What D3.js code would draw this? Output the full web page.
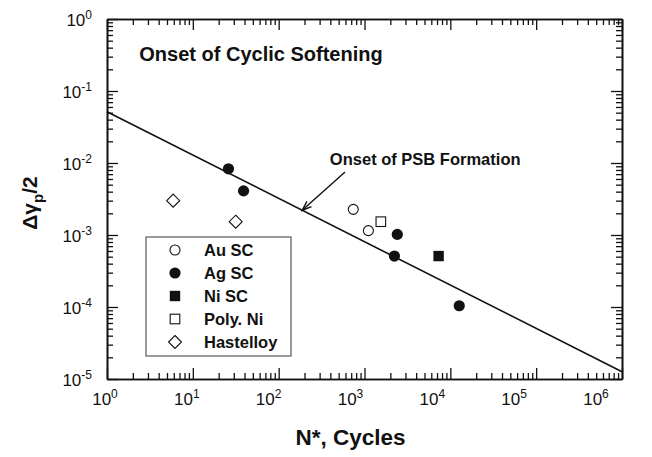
<!DOCTYPE html>
<html>
<head>
<meta charset="utf-8">
<script src="https://cdn.jsdelivr.net/npm/d3@7"></script>
<style>
  body { margin: 0; background: #fff; }
  svg text { font-family: Arial, "Liberation Sans", Helvetica, sans-serif; fill: #111; }
</style>
</head>
<body>
<div id="chart"></div>
<script>
// data (N* cycles, plastic strain amplitude)
var auN = [740, 1110];
var auAmp = [2.27e-3, 1.15e-3];
var agN = [26, 39, 2230, 2410, 12700];
var agAmp = [8.3e-3, 4.1e-3, 5.1e-4, 1.02e-3, 1.04e-4];
var niScN = [7300];
var niScAmp = [5.1e-4];
var polyNiN = [1550];
var polyNiAmp = [1.53e-3];
var hastN = [5.9, 31.6];
var hastAmp = [3.0e-3, 1.53e-3];
// onset of PSB formation line
var psbN = [1, 1e6];
var psbAmp = [0.0516, 1.26e-5];

var xDecades = [0, 1, 2, 3, 4, 5, 6];
var yDecades = [0, -1, -2, -3, -4, -5];
var legendNames = ['Au SC', 'Ag SC', 'Ni SC', 'Poly. Ni', 'Hastelloy'];

var W = 652, H = 457;
var margin = {top: 19, right: 30, bottom: 78, left: 107},
    width = W - margin.left - margin.right,
    height = H - margin.top - margin.bottom;

var svg = d3.select('#chart').append('svg')
    .attr('width', W)
    .attr('height', H);

var x = d3.scaleLog().domain([1, 1e6]).range([0, width]);
var y = d3.scaleLog().domain([1e-5, 1]).range([height, 0]);
// tick labels sit on a slightly narrower spacing than the ticks in the original
var xLab = d3.scaleLog().domain([1, 1e6]).range([105 - margin.left, 596 - margin.left]);

var g = svg.append('g')
    .attr('transform', 'translate(' + margin.left + ',' + margin.top + ')');

// major and minor tick values
var xMajor = xDecades.map(function(d) { return Math.pow(10, d); });
var yMajor = yDecades.map(function(d) { return Math.pow(10, d); });
var xMinor = [], yMinor = [];
xDecades.slice(0, -1).forEach(function(d) {
  for (var m = 2; m <= 9; m++) xMinor.push(m * Math.pow(10, d));
});
yDecades.slice(1).forEach(function(d) {
  for (var m = 2; m <= 9; m++) yMinor.push(m * Math.pow(10, d));
});

function styleAxis(sel) {
  sel.selectAll('.domain').attr('stroke', '#111').attr('stroke-width', 1.6);
  sel.selectAll('.tick line').attr('stroke', '#111').attr('stroke-width', 1.3);
  sel.selectAll('.tick text').remove();
}

[[xMajor, 11], [xMinor, 6]].forEach(function(t) {
  g.append('g').attr('transform', 'translate(0,' + height + ')')
    .call(d3.axisBottom(x).tickValues(t[0]).tickSize(-t[1]).tickSizeOuter(0).tickFormat(''))
    .call(styleAxis);
  g.append('g')
    .call(d3.axisTop(x).tickValues(t[0]).tickSize(-t[1]).tickSizeOuter(0).tickFormat(''))
    .call(styleAxis);
});
[[yMajor, 11], [yMinor, 6]].forEach(function(t) {
  g.append('g')
    .call(d3.axisLeft(y).tickValues(t[0]).tickSize(-t[1]).tickSizeOuter(0).tickFormat(''))
    .call(styleAxis);
  g.append('g').attr('transform', 'translate(' + width + ',0)')
    .call(d3.axisRight(y).tickValues(t[0]).tickSize(-t[1]).tickSizeOuter(0).tickFormat(''))
    .call(styleAxis);
});

// tick labels with superscripts
xDecades.forEach(function(d) {
  var t = g.append('text')
    .attr('x', xLab(Math.pow(10, d)))
    .attr('y', height + 26)
    .attr('text-anchor', 'middle')
    .style('font-size', '17px');
  t.append('tspan').text('10');
  t.append('tspan').attr('dy', -7).style('font-size', '12px').text(d);
});
yDecades.forEach(function(d) {
  var t = g.append('text')
    .attr('x', -15)
    .attr('y', y(Math.pow(10, d)) + 6.5)
    .attr('text-anchor', 'end')
    .style('font-size', '17px');
  t.append('tspan').text('10');
  t.append('tspan').attr('dy', -7).style('font-size', '12px').text(d);
});

// axis titles
g.append('text')
  .attr('x', xLab(1000))
  .attr('y', height + 66)
  .attr('text-anchor', 'middle')
  .attr('font-weight', 'bold')
  .style('font-size', '22.5px')
  .text('N*, Cycles');

var yt = svg.append('text')
  .attr('transform', 'translate(37,203) rotate(-90)')
  .attr('text-anchor', 'middle')
  .attr('font-weight', 'bold')
  .style('font-size', '21px');
yt.append('tspan').text('\u0394\u03b3');
yt.append('tspan').attr('dy', 6).style('font-size', '15px').text('p');
yt.append('tspan').attr('dy', -6).text('/2');

// PSB line
var line = d3.line()
  .x(function(d) { return x(d[0]); })
  .y(function(d) { return y(d[1]); });

g.append('path')
  .datum(d3.zip(psbN, psbAmp))
  .attr('d', line)
  .attr('fill', 'none')
  .attr('stroke', '#111')
  .attr('stroke-width', 1.6);

// annotations
g.append('text')
  .attr('x', x(2.38))
  .attr('y', y(0.26))
  .attr('font-weight', 'bold')
  .style('font-size', '20px')
  .text('Onset of Cyclic Softening');

g.append('text')
  .attr('x', x(395))
  .attr('y', y(9.4e-3))
  .attr('font-weight', 'bold')
  .style('font-size', '16.5px')
  .text('Onset of PSB Formation');

// arrow to the line
var tipN = 188, tipAmp = psbAmp[0] * Math.pow(tipN, Math.log10(psbAmp[1] / psbAmp[0]) / 6);
var tail = [x(593), y(7.5e-3)], tip = [x(tipN), y(tipAmp)];
var ang = Math.atan2(tip[1] - tail[1], tip[0] - tail[0]);
g.append('line')
  .attr('x1', tail[0]).attr('y1', tail[1])
  .attr('x2', tip[0]).attr('y2', tip[1])
  .attr('stroke', '#111').attr('stroke-width', 1.4);
g.append('path')
  .attr('d', 'M' + (tip[0] - 10 * Math.cos(ang - 0.35)) + ',' + (tip[1] - 10 * Math.sin(ang - 0.35)) +
             'L' + tip[0] + ',' + tip[1] +
             'L' + (tip[0] - 10 * Math.cos(ang + 0.35)) + ',' + (tip[1] - 10 * Math.sin(ang + 0.35)))
  .attr('fill', 'none')
  .attr('stroke', '#111')
  .attr('stroke-width', 1.4);

// symbols
function drawSymbol(sel, type) {
  if (type === 'openCircle') {
    sel.append('circle').attr('r', 5).attr('fill', '#fff').attr('stroke', '#111').attr('stroke-width', 1.1);
  } else if (type === 'circle') {
    sel.append('circle').attr('r', 5.6).attr('fill', '#111');
  } else if (type === 'square') {
    sel.append('rect').attr('x', -5.2).attr('y', -5.2).attr('width', 10.4).attr('height', 10.4).attr('fill', '#111');
  } else if (type === 'openSquare') {
    sel.append('rect').attr('x', -4.8).attr('y', -4.8).attr('width', 9.6).attr('height', 9.6)
      .attr('fill', '#fff').attr('stroke', '#111').attr('stroke-width', 1.1);
  } else if (type === 'diamond') {
    sel.append('path').attr('d', 'M0,-6.5L6.5,0L0,6.5L-6.5,0Z')
      .attr('fill', '#fff').attr('stroke', '#111').attr('stroke-width', 1.1);
  }
}

var series = [
  {n: auN, a: auAmp, type: 'openCircle'},
  {n: agN, a: agAmp, type: 'circle'},
  {n: niScN, a: niScAmp, type: 'square'},
  {n: polyNiN, a: polyNiAmp, type: 'openSquare'},
  {n: hastN, a: hastAmp, type: 'diamond'}
];

series.forEach(function(s) {
  s.n.forEach(function(n, i) {
    var p = g.append('g').attr('transform', 'translate(' + x(n) + ',' + y(s.a[i]) + ')');
    drawSymbol(p, s.type);
  });
});

// legend
var leg = svg.append('g').attr('transform', 'translate(146,237)');
leg.append('rect')
  .attr('width', 145)
  .attr('height', 119)
  .attr('fill', '#fff')
  .attr('stroke', '#666')
  .attr('stroke-width', 1.3);

legendNames.forEach(function(name, i) {
  var row = leg.append('g').attr('transform', 'translate(0,' + (13 + i * 23) + ')');
  drawSymbol(row.append('g').attr('transform', 'translate(29,0)'), series[i].type);
  row.append('text')
    .attr('x', 58)
    .attr('y', 6)
    .attr('font-weight', 'bold')
    .style('font-size', '16.5px')
    .text(name);
});
</script>
</body>
</html>
